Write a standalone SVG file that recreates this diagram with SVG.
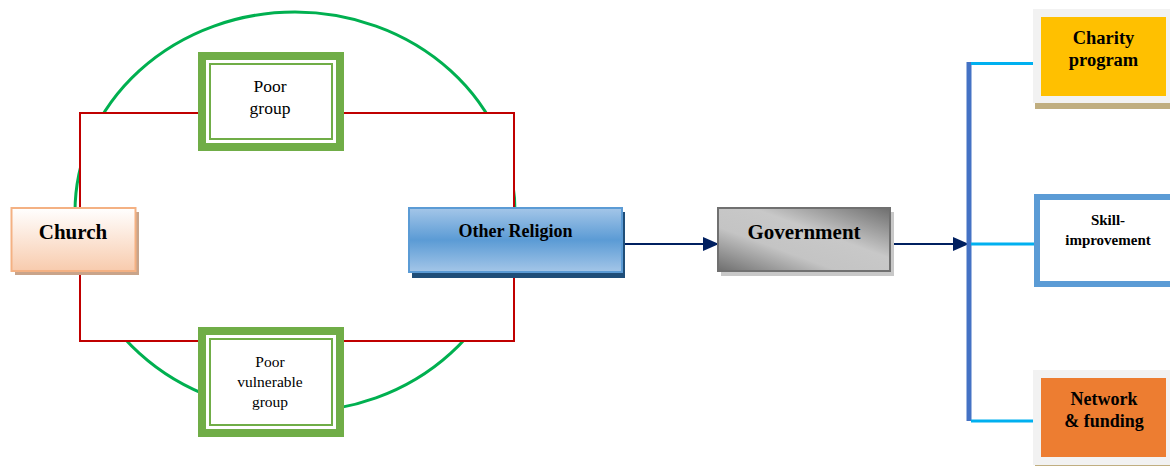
<svg xmlns="http://www.w3.org/2000/svg" width="1170" height="466" viewBox="0 0 1170 466">
<style>
  .t { font-family: "Liberation Serif", "Times New Roman", serif; fill: #000; text-anchor: middle; }
  .b { font-weight: bold; }
  .green-outer { fill: #ffffff; stroke: #70ad47; stroke-width: 8; }
  .green-inner { fill: #ffffff; stroke: #70ad47; stroke-width: 2; }
  .conn { fill: none; stroke: #002060; stroke-width: 2; }
  .cyan { stroke: #00b0f0; stroke-width: 3; fill: none; }
</style>
<defs>
  <linearGradient id="gChurch" x1="0" y1="0" x2="0" y2="1">
    <stop offset="0" stop-color="#ffffff"/>
    <stop offset="1" stop-color="#f8cbad"/>
  </linearGradient>
  <linearGradient id="gOther" x1="0" y1="0" x2="0" y2="1">
    <stop offset="0" stop-color="#a4c6e8"/>
    <stop offset="0.5" stop-color="#5b9bd5"/>
    <stop offset="1" stop-color="#a4c6e8"/>
  </linearGradient>
  <linearGradient id="gGov" x1="0" y1="1" x2="1" y2="0">
    <stop offset="0" stop-color="#6e6e6e"/>
    <stop offset="0.35" stop-color="#c4c4c4"/>
    <stop offset="0.6" stop-color="#c8c8c8"/>
    <stop offset="1" stop-color="#6e6e6e"/>
  </linearGradient>
  <marker id="arr" markerWidth="16" markerHeight="14" refX="15" refY="7" orient="auto" markerUnits="userSpaceOnUse">
    <path d="M0,0 L16,7 L0,14 Z" fill="#002060"/>
  </marker>
</defs>

<g id="circle">
  <ellipse cx="295" cy="212" rx="220" ry="200" fill="none" stroke="#00b050" stroke-width="3"/>
</g>

<g id="connectors">
  <rect x="80" y="113" width="434" height="228" fill="#ffffff" stroke="#c00000" stroke-width="2"/>
  <line class="conn" x1="623" y1="244" x2="718" y2="244" marker-end="url(#arr)"/>
  <line class="conn" x1="891" y1="244" x2="968" y2="244" marker-end="url(#arr)"/>
  <line x1="969" y1="62" x2="969" y2="421" stroke="#4472c4" stroke-width="5"/>
  <line class="cyan" x1="971" y1="63.5" x2="1036" y2="63.5"/>
  <line class="cyan" x1="971" y1="244" x2="1036" y2="244"/>
  <line class="cyan" x1="971" y1="421" x2="1040" y2="421"/>
</g>

<g id="church">
  <rect x="15" y="212" width="124" height="63" fill="#c9a48a"/>
  <rect x="11.5" y="208" width="124" height="63" fill="url(#gChurch)" stroke="#f4b183" stroke-width="2"/>
  <text class="t b" x="73" y="239" font-size="21">Church</text>
</g>

<g id="poor-group">
  <rect class="green-outer" x="202" y="56" width="138" height="91"/>
  <rect class="green-inner" x="210" y="64" width="122" height="75"/>
  <text class="t" x="270" y="92" font-size="17.5">Poor</text>
  <text class="t" x="270" y="114" font-size="17.5">group</text>
</g>

<g id="poor-vulnerable-group">
  <rect class="green-outer" x="202" y="331" width="138" height="102"/>
  <rect class="green-inner" x="210" y="339" width="122" height="86"/>
  <text class="t" x="270" y="367" font-size="15.5">Poor</text>
  <text class="t" x="270" y="387" font-size="15.5">vulnerable</text>
  <text class="t" x="270" y="407" font-size="15.5">group</text>
</g>

<g id="other-religion">
  <rect x="412" y="212" width="213" height="66" fill="#1f4e79"/>
  <rect x="409" y="208" width="213" height="64" fill="url(#gOther)" stroke="#5b9bd5" stroke-width="2"/>
  <text class="t b" x="515.5" y="237" font-size="18">Other Religion</text>
</g>

<g id="government">
  <rect x="721" y="212" width="173" height="64" fill="#c8c8c8"/>
  <rect x="718" y="208" width="172" height="63" fill="url(#gGov)" stroke="#707070" stroke-width="2"/>
  <text class="t b" x="804" y="239" font-size="21">Government</text>
</g>

<g id="charity-program">
  <rect x="1035" y="103" width="135" height="6" fill="#c0ae80"/>
  <rect x="1033" y="9" width="137" height="94" fill="#f2f2f2"/>
  <rect x="1041" y="17" width="125" height="79" fill="#ffc000"/>
  <text class="t b" x="1103.5" y="44" font-size="18.5">Charity</text>
  <text class="t b" x="1103.5" y="66" font-size="18.5">program</text>
</g>

<g id="skill-improvement">
  <rect x="1037" y="197" width="140" height="87" fill="#ffffff" stroke="#5b9bd5" stroke-width="6"/>
  <text class="t b" x="1108" y="225" font-size="15">Skill-</text>
  <text class="t b" x="1108" y="245" font-size="15">improvement</text>
</g>

<g id="network-funding">
  <rect x="1035" y="464" width="135" height="3" fill="#c0ae80"/>
  <rect x="1033" y="370" width="137" height="95" fill="#f2f2f2"/>
  <rect x="1041" y="378" width="125" height="79" fill="#ed7d31"/>
  <text class="t b" x="1104" y="405" font-size="18">Network</text>
  <text class="t b" x="1104" y="427" font-size="18">&amp; funding</text>
</g>
</svg>
